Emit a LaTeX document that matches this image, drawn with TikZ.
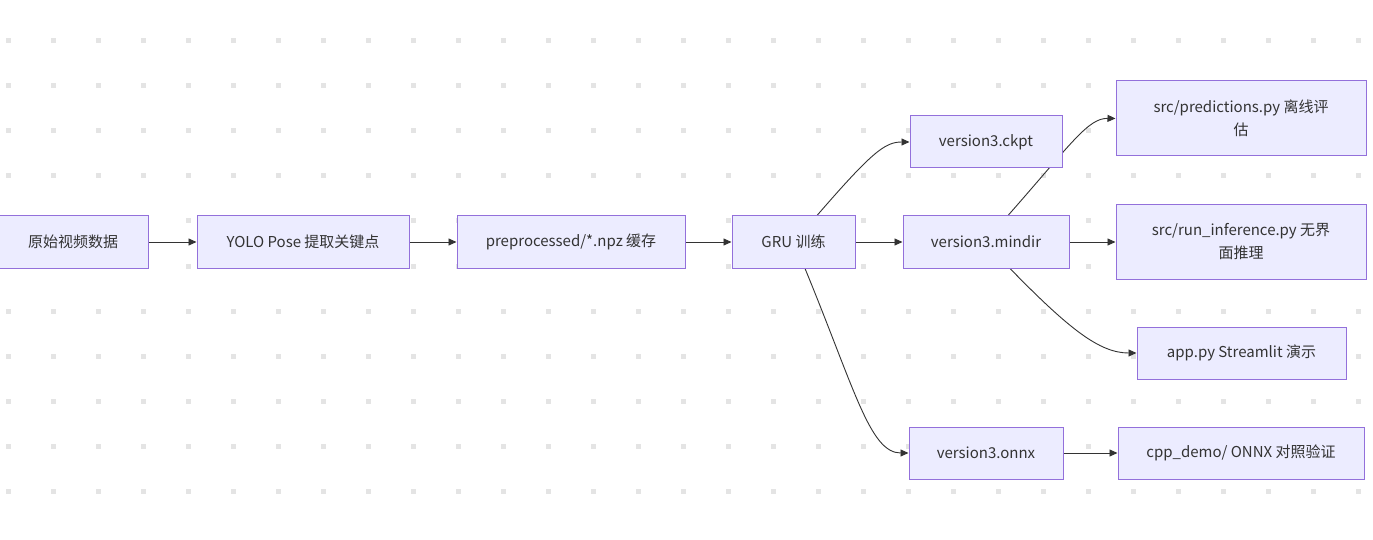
\documentclass[tikz,border=0pt]{standalone}
\usepackage{fontspec}
\setmainfont{Noto Sans CJK SC}
\usepackage{xcolor}
\usetikzlibrary{arrows.meta}
\definecolor{boxfill}{HTML}{ECECFF}
\definecolor{boxline}{HTML}{9370DB}
\definecolor{inkgray}{HTML}{333333}
\definecolor{dotgray}{HTML}{E4E4E4}
\pgfdeclarelayer{background}
\pgfsetlayers{background,main}
\tikzset{
  box/.style={draw=boxline,fill=boxfill,text=inkgray,line width=1pt,inner sep=0pt,
    align=center,font=\fontsize{15}{23}\selectfont},
  link/.style={draw=inkgray,line width=0.9pt,-{Triangle[length=8pt,width=7pt]}}
}

\begin{document}
\begin{tikzpicture}[x=1pt,y=-1pt]
\useasboundingbox (0,0) rectangle (1373,540);
  % pipeline
  \node[box,minimum width=150pt,minimum height=52pt] (raw) at (73,242) {原始视频数据};
  \node[box,minimum width=212pt,minimum height=52pt] (yolo) at (303,242) {YOLO Pose 提取关键点};
  \node[box,minimum width=228pt,minimum height=52pt] (npz) at (571,242) {preprocessed/*.npz 缓存};
  \node[box,minimum width=123pt,minimum height=52pt] (gru) at (793.5,242) {GRU 训练};
  % exported models
  \node[box,minimum width=152pt,minimum height=52pt] (ckpt) at (986,142) {version3.ckpt};
  \node[box,minimum width=166pt,minimum height=52pt] (mindir) at (986,242) {version3.mindir};
  \node[box,minimum width=154pt,minimum height=52pt] (onnx) at (986,453) {version3.onnx};
  % consumers
  \node[box,minimum width=250pt,minimum height=75pt] (pred) at (1241,118.5) {src/predictions.py 离线评\\估};
  \node[box,minimum width=250pt,minimum height=74pt] (infer) at (1241,242) {src/run\_inference.py 无界\\面推理};
  \node[box,minimum width=209pt,minimum height=52pt] (app) at (1241.5,353) {app.py Streamlit 演示};
  \node[box,minimum width=246pt,minimum height=52pt] (cpp) at (1241,453) {cpp\_demo/ ONNX 对照验证};

  \begin{pgfonlayer}{background}
    \foreach \i in {0,...,30}
      \foreach \j in {0,...,10}
        \fill[dotgray] (5.5+45*\i,38.5+45*\j) rectangle +(5,5);
    \draw[link] (raw) -- (yolo);
    \draw[link] (yolo) -- (npz);
    \draw[link] (npz) -- (gru);
    \draw[link] (gru) -- (mindir);
    \draw[link] (mindir) -- (infer);
    \draw[link] (onnx) -- (cpp);
    \draw[link] ([xshift=23.5pt]gru.north) .. controls (872,152) and (885,142) .. (ckpt.west);
    \draw[link] ([xshift=11.5pt]gru.south) .. controls (855,390) and (870,453) .. (onnx.west);
    \draw[link] ([xshift=22pt]mindir.north) .. controls (1071,144) and (1088,118) .. (pred.west);
    \draw[link] ([xshift=24pt]mindir.south) .. controls (1070,330) and (1100,353) .. (app.west);
  \end{pgfonlayer}
\end{tikzpicture}
\end{document}
